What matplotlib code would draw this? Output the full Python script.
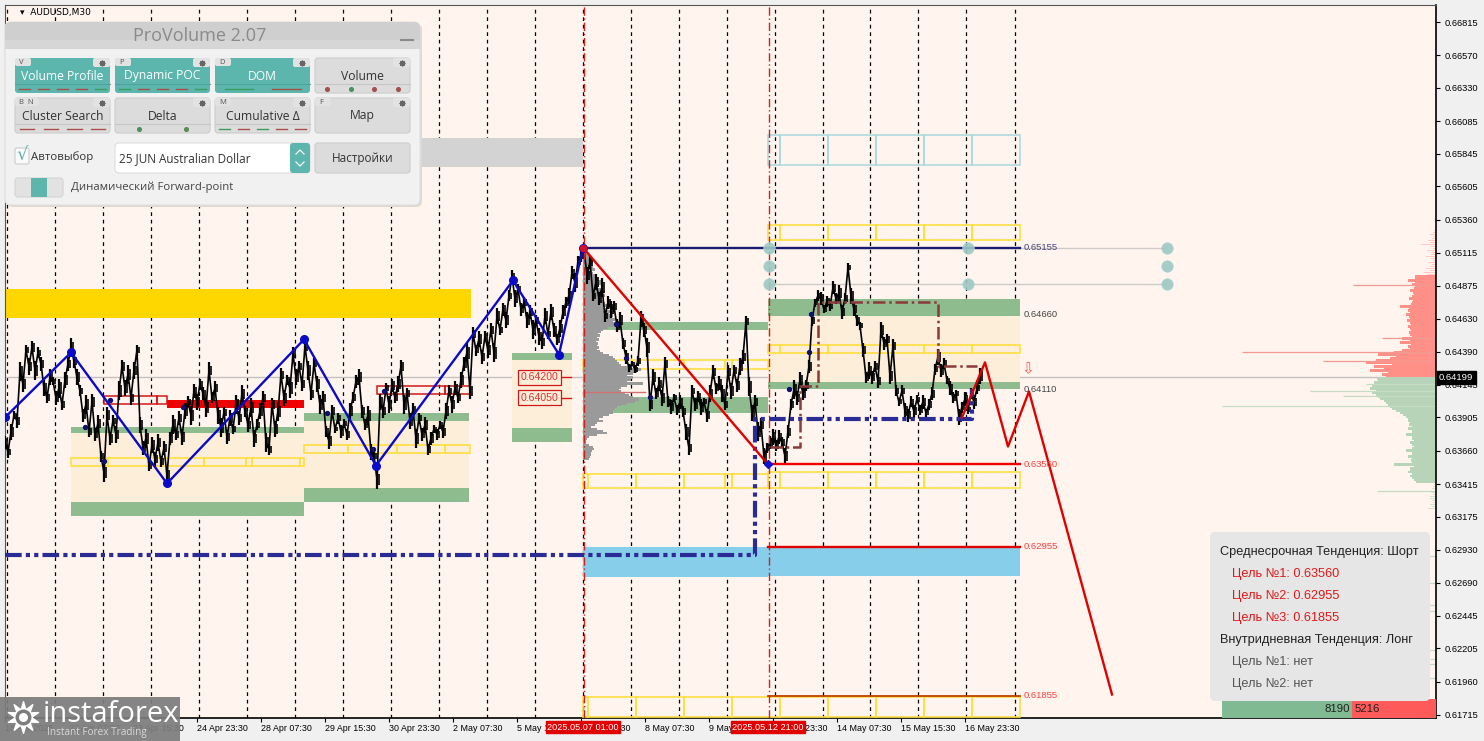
import numpy as np
import matplotlib
matplotlib.use('Agg')
from matplotlib import pyplot as plt
from matplotlib.patches import Rectangle, FancyBboxPatch

BG = '#fff5ee'
GREEN = '#8fbc8f'
BEIGE = '#fdeeda'
YELLOW = '#ffdf40'
NAVY = '#2b2b96'

# price path in pips, one value every 3 bars-pixels starting at bar 5
close_pips = [
    6372, 6365, 6380, 6392, 6388, 6424, 6415, 6440, 6428, 6442, 6425, 6438, 6430, 6412, 6405,
    6420, 6417, 6405, 6412, 6400, 6418, 6430, 6442, 6432, 6420, 6410, 6392, 6400, 6380, 6402,
    6378, 6386, 6362, 6350, 6392, 6375, 6388, 6378, 6410, 6428, 6412, 6422, 6405, 6425, 6440,
    6385, 6368, 6375, 6355, 6370, 6360, 6372, 6358, 6368, 6348, 6375, 6385, 6378, 6390, 6376,
    6395, 6402, 6392, 6410, 6402, 6415, 6408, 6398, 6425, 6405, 6412, 6392, 6383, 6394, 6376,
    6390, 6382, 6400, 6390, 6408, 6395, 6385, 6398, 6375, 6385, 6395, 6405, 6372, 6367, 6400,
    6382, 6395, 6422, 6405, 6418, 6412, 6437, 6420, 6428, 6415, 6443, 6425, 6408, 6430, 6415,
    6400, 6405, 6380, 6373, 6395, 6382, 6390, 6380, 6386, 6378, 6395, 6405, 6417, 6420, 6395,
    6385, 6392, 6365, 6362, 6345, 6402, 6395, 6412, 6400, 6414, 6405, 6415, 6428, 6400, 6408,
    6388, 6396, 6375, 6390, 6378, 6385, 6367, 6375, 6382, 6378, 6385, 6380, 6395, 6410, 6400,
    6412, 6405, 6418, 6430, 6438, 6410, 6452, 6440, 6448, 6435, 6450, 6440, 6455, 6438, 6465,
    6455, 6470, 6462, 6480, 6494, 6478, 6485, 6470, 6475, 6462, 6468, 6455, 6462, 6450, 6446,
    6465, 6452, 6468, 6455, 6448, 6456, 6468, 6475, 6480, 6497, 6490, 6505, 6510, 6514, 6495,
    6505, 6480, 6490, 6478, 6486, 6465, 6475, 6470, 6472, 6458, 6462, 6445, 6435, 6427, 6430,
    6426, 6432, 6463, 6455, 6442, 6400, 6420, 6408, 6415, 6405, 6430, 6402, 6398, 6405, 6396,
    6402, 6395, 6380, 6368, 6410, 6400, 6406, 6398, 6402, 6392, 6408, 6424, 6412, 6416, 6408,
    6400, 6424, 6410, 6425, 6414, 6428, 6435, 6461, 6413, 6394, 6402, 6380, 6385, 6362, 6368,
    6372, 6376, 6370, 6376, 6372, 6362, 6380, 6400, 6411, 6405, 6418, 6408, 6414, 6428, 6462,
    6475, 6480, 6478, 6470, 6476, 6472, 6486, 6478, 6482, 6468, 6478, 6501, 6480, 6470, 6462,
    6458, 6440, 6420, 6425, 6420, 6428, 6417, 6455, 6445, 6448, 6421, 6443, 6410, 6402, 6410,
    6395, 6392, 6402, 6395, 6404, 6396, 6402, 6394, 6400, 6408, 6426, 6435, 6425, 6430, 6418,
    6412, 6405, 6408, 6391, 6398, 6404, 6396, 6408, 6402, 6412, 6421,
]
# half height of the fuzz around the path at each of those points, in pips
fuzz_pips = [
    5, 4, 6, 3, 5, 7, 6, 4, 6, 5, 7, 4, 5, 6, 4, 6, 3, 5, 7, 4, 6, 5, 7, 5, 6, 4, 5, 7, 4, 6,
    5, 6, 4, 7, 6, 5, 4, 6, 7, 5, 6, 7, 5, 6, 4, 6, 5, 7, 4, 6, 5, 6, 4, 5, 6, 5, 7, 4, 5, 6,
    6, 4, 7, 5, 6, 4, 5, 7, 6, 4, 5, 6, 7, 4, 5, 6, 4, 7, 5, 6, 4, 5, 7, 6, 4, 6, 5, 7, 4, 5,
    6, 7, 5, 6, 4, 7, 5, 6, 4, 5, 6, 7, 5, 4, 6, 7, 5, 4, 6, 5, 3, 4, 5, 3, 4, 6, 4, 5, 6, 5,
    4, 7, 6, 4, 7, 6, 5, 4, 6, 5, 4, 6, 5, 7, 4, 6, 5, 7, 4, 5, 6, 4, 5, 3, 4, 3, 5, 6, 4, 6,
    5, 4, 6, 5, 7, 6, 5, 4, 6, 5, 4, 6, 5, 7, 6, 4, 5, 6, 4, 5, 6, 4, 5, 4, 6, 5, 7, 4, 6, 5,
    6, 4, 6, 5, 4, 6, 5, 4, 6, 5, 7, 4, 5, 3, 6, 5, 4, 6, 5, 7, 4, 5, 6, 4, 5, 6, 4, 5, 3, 2,
    3, 4, 6, 5, 7, 5, 6, 4, 5, 6, 5, 4, 5, 3, 4, 5, 4, 6, 5, 4, 5, 4, 6, 3, 5, 6, 5, 4, 5, 6,
    4, 5, 6, 4, 5, 6, 5, 4, 7, 6, 5, 7, 5, 6, 4, 5, 6, 4, 5, 4, 6, 5, 4, 7, 5, 6, 5, 4, 5, 4,
    3, 4, 5, 3, 4, 3, 5, 4, 6, 5, 4, 3, 6, 5, 4, 3, 5, 4, 6, 5, 4, 5, 6, 5, 4, 6, 5, 4, 3, 4,
    6, 5, 4, 5, 3, 4, 5, 3, 4, 5, 4, 6, 5, 4, 3, 5, 4, 3, 6, 4, 5, 3, 4, 5, 4, 6, 5, 4, 6, 5,
]

# zigzag pivots
blue_bars = [5, 71, 167, 304, 376, 513, 559, 583]
blue_prices = [0.63905, 0.64383, 0.63419, 0.64479, 0.63551, 0.64913, 0.64368, 0.65155]
red_bars = [583, 768]
red_prices = [0.65155, 0.63560]

# forecast path
forecast_bars = [962, 985, 1008, 1029, 1112]
forecast_prices = [0.63905, 0.64310, 0.63691, 0.64096, 0.61866]

# stepped levels
poc_bars = [770, 800, 800, 818, 818, 938, 938, 977]
poc_prices = [0.63684, 0.63684, 0.64133, 0.64133, 0.64758, 0.64758, 0.64287, 0.64287]
dpoc_bars = [5, 755, 755, 972, 972]
dpoc_prices = [0.62889, 0.62889, 0.63890, 0.63890, 0.64111]

# small dark dots on the price
dot_bars = [85, 104, 110, 183, 327, 373, 384, 616, 626, 650, 789, 811, 809]
dot_prices = [0.63838, 0.63581, 0.64030, 0.63978, 0.63941, 0.63676, 0.64103, 0.64596, 0.64339,
              0.64052, 0.64111, 0.64663, 0.64390]

# filled zones: bar from, bar to, price top, price bottom
beige_zones = [(71, 304, 0.63787, 0.63286), (304, 469, 0.63875, 0.63382), (512, 572, 0.64324, 0.63824),
               (768, 1020, 0.64655, 0.64162)]
green_zones = [(71, 304, 0.63838, 0.63787), (71, 304, 0.63286, 0.63176), (304, 469, 0.63934, 0.63875),
               (304, 469, 0.63382, 0.63279), (512, 572, 0.64376, 0.64324), (512, 572, 0.63824, 0.63721),
               (600, 768, 0.64604, 0.64545), (583, 768, 0.64052, 0.63941),
               (768, 1020, 0.64773, 0.64655), (768, 1020, 0.64162, 0.64111)]
other_zones = [(5, 471, 0.64847, 0.64633, '#ffd700'), (420, 583, 0.65958, 0.65745, '#d3d3d3'),
               (583, 768, 0.62948, 0.62734, '#87ceeb'), (768, 1020, 0.62955, 0.62741, '#87ceeb'),
               (167, 304, 0.64030, 0.63971, '#f00000')]

# outlined boxes: bar edges, price top, price bottom
yellow_rows = [
    ([71, 108, 204, 246, 252, 300, 304], 0.63603, 0.63544),
    ([304, 348, 397, 445, 470], 0.63699, 0.63640),
    ([583, 586, 636, 684, 725, 732, 768], 0.64324, 0.64265),
    ([583, 588, 636, 684, 725, 732, 768], 0.63492, 0.63382),
    ([768, 780, 828, 876, 924, 972, 1020], 0.65318, 0.65207),
    ([768, 780, 828, 880, 924, 972, 1020], 0.64435, 0.64376),
    ([768, 780, 828, 876, 924, 972, 1020], 0.63500, 0.63389),
    ([583, 588, 636, 684, 732, 780, 828, 876, 924, 972, 1020], 0.61851, 0.61700),
]
red_rows = [
    ([104, 157, 167], 0.64059, 0.64001),
    ([377, 397, 445, 470], 0.64133, 0.64074),
]
cyan_edges = [768, 780, 828, 876, 924, 972, 1020]
cyan_top, cyan_bottom = 0.65980, 0.65759

# horizontal levels to the right
level_prices = [0.65155, 0.63560, 0.62955, 0.61855]
level_colors = ['#1a1a70', '#f00000', '#e00000', '#c04000']
level_labels = ['0.65155', '0.63560', '0.62955', '0.61855']
level_text_colors = ['#44447a', '#ff4040', '#ff4040', '#ff4040']
circle_bars = [769, 769, 769, 968, 968, 1167, 1167, 1167]
circle_prices = [0.65155, 0.65023, 0.64884, 0.65155, 0.64884, 0.65155, 0.65023, 0.64884]

# grey profile from the marked session, one row per 0.00015
session_top = 0.65111
session_widths = [
    4, 6, 8, 7, 10, 9, 8, 10, 12, 9, 10, 13, 14, 15, 20, 18, 16, 15, 18, 22, 20, 22, 18, 17, 20, 22,
    25, 20, 24, 28, 26, 30, 28, 32, 30, 38, 34, 25, 20, 18, 15, 17, 14, 16, 13, 15, 14, 16, 14, 17,
    20, 26, 30, 32, 34, 36, 38, 48, 58, 54, 50, 44, 50, 48, 44, 60, 44, 38, 36, 38, 42, 46, 50, 56,
    52, 44, 38, 34, 32, 30, 30, 26, 20, 16, 20, 14, 12, 8, 14, 20, 24, 14, 6, 4, 3, 3, 6, 10, 11, 9,
    8, 8, 7, 6,
]

# DOM profile at the right edge
dom_red = [
    50, 54, 48, 66, 52, 62, 44, 70, 60, 46, 40, 58, 42, 34, 26, 28, 25, 36, 26, 34, 24, 26, 27, 25,
    26, 28, 25, 26, 29, 26, 27, 30, 26, 28, 27, 36, 25, 24, 23, 27, 24, 22, 23, 26, 22, 21, 24, 21,
    28, 21, 21,
]
dom_red_tail = [8, 12, 6, 10, 6, 4, 8, 3, 5, 10, 5, 4, 9, 3, 5, 15, 6, 8, 4, 3, 6, 3, 2]
dom_green = [
    59, 58, 62, 60, 64, 66, 60, 64, 60, 58, 56, 52, 50, 48, 46, 44, 40, 36, 33, 30, 28, 28, 26, 27,
    24, 28, 24, 24, 30, 24, 24, 22, 26, 24, 22, 24, 30, 24, 24, 28, 24, 25, 24, 42, 22, 26, 26, 28,
    24, 26, 24, 22, 20,
]
dom_green_tail = [2, 3, 4, 0, 5, 3, 6, 6, 4, 3, 6, 4, 8]
spike_red_prices = [0.64383, 0.64317, 0.64883, 0.64486]
spike_red_widths = [194, 113, 83, 54]
spike_green_prices = [0.63986, 0.64103, 0.64066, 0.64148, 0.63367, 0.62882, 0.62683, 0.62528, 0.62484,
                      0.62190, 0.62124, 0.62087, 0.61984]
spike_green_widths = [214, 126, 93, 70, 59, 11, 9, 30, 33, 12, 6, 12, 10]

# axis labels
y_ticks = ['0.66815', '0.66570', '0.66330', '0.66085', '0.65845', '0.65605', '0.65360', '0.65115',
           '0.64875', '0.64630', '0.64390', '0.64145', '0.63905', '0.63660', '0.63415', '0.63175',
           '0.62930', '0.62690', '0.62445', '0.62205', '0.61960', '0.61715']
x_tick_bars = [5, 69, 133, 197, 261, 325, 389, 453, 517, 581, 645, 709, 773, 837, 901, 965]
x_tick_labels = ['18 Apr 2025', '22 Apr 07:30', '23 Apr 15:30', '24 Apr 23:30', '28 Apr 07:30',
                 '29 Apr 15:30', '30 Apr 23:30', '2 May 07:30', '5 May 15:30', '6 May 23:30',
                 '8 May 07:30', '9 May 15:30', '12 May 23:30', '14 May 07:30', '15 May 15:30',
                 '16 May 23:30']
grid_bars = [7, 55, 103, 151, 199, 247, 295, 343, 391, 439, 487, 535, 583, 631, 679, 727, 775, 823,
             870, 918, 966, 1015]

fig = plt.figure(figsize=(14.84, 7.41), dpi=100, facecolor='#f0f0f0')
ax = fig.add_axes([5 / 1484, 23 / 741, 1431 / 1484, 713 / 741], facecolor=BG)
ax.set_xlim(5, 1436)
# 693 pixels between 0.66815 and 0.61715
per_px = (0.66815 - 0.61715) / 693
ax.set_ylim(0.61715 - 3 * per_px, 0.66815 + 17 * per_px)

for s in ['left', 'top']:
    ax.spines[s].set_color('#555555')
    ax.spines[s].set_linewidth(0.8)
for s in ['right', 'bottom']:
    ax.spines[s].set_linewidth(1.2)

ax.yaxis.tick_right()
ax.set_yticks([float(v) for v in y_ticks], y_ticks, fontsize=6.7, family='Liberation Sans')
ax.tick_params(axis='y', length=3, width=0.8, pad=3)
ax.set_xticks(x_tick_bars, x_tick_labels, fontsize=6.4, family='Liberation Sans', ha='left')
ax.tick_params(axis='x', length=3, width=0.8, pad=1)

for x in grid_bars:
    ax.axvline(x, color='black', lw=0.9, ls=(0, (3, 3)), zorder=1)
ax.axhline(0.64199, color='#c4c0c0', lw=1, zorder=1)

for x0, x1, top, bottom in beige_zones:
    ax.add_patch(Rectangle((x0, bottom), x1 - x0, top - bottom, fc=BEIGE, ec='none', zorder=2))
for x0, x1, top, bottom in green_zones:
    ax.add_patch(Rectangle((x0, bottom), x1 - x0, top - bottom, fc=GREEN, ec='none', zorder=2.2))
for x0, x1, top, bottom, color in other_zones:
    ax.add_patch(Rectangle((x0, bottom), x1 - x0, top - bottom, fc=color, ec='none', zorder=2.2))

for edges, top, bottom in yellow_rows:
    for x0, x1 in zip(edges[:-1], edges[1:]):
        ax.add_patch(Rectangle((x0, bottom), x1 - x0, top - bottom, fc='none', ec=YELLOW, lw=1.2, zorder=3))
for edges, top, bottom in red_rows:
    for x0, x1 in zip(edges[:-1], edges[1:]):
        ax.add_patch(Rectangle((x0, bottom), x1 - x0, top - bottom, fc='none', ec='#d01818', lw=1.1, zorder=3))
for x0, x1 in zip(cyan_edges[:-1], cyan_edges[1:]):
    ax.add_patch(Rectangle((x0, cyan_bottom), x1 - x0, cyan_top - cyan_bottom, fc='none', ec='#a8d8e0', lw=1.1, zorder=3))

# grey session profile
row = 0.000147
session_y = session_top - np.arange(len(session_widths)) * row
ax.barh(session_y, session_widths, height=row * 1.15, left=583, color='#9a9a9a', lw=0, zorder=3.2)
ax.plot([583, 645], [0.64092, 0.64092], color='#d07070', lw=1, zorder=3.3)

# DOM at right edge
y_up = 0.64199 + 0.00007 + np.arange(len(dom_red)) * row
ax.barh(y_up, dom_red, height=row * 1.2, left=1436 - np.array(dom_red), color='#ff9088', lw=0, zorder=2)
y_tail = y_up[-1] + row + np.arange(len(dom_red_tail)) * row
ax.barh(y_tail, dom_red_tail, height=row * 0.7, left=1436 - np.array(dom_red_tail), color='#ffc8c0', lw=0, zorder=2)
y_dn = 0.64199 - 0.00007 - np.arange(len(dom_green)) * row
ax.barh(y_dn, dom_green, height=row * 1.2, left=1436 - np.array(dom_green), color='#b8d4b8', lw=0, zorder=2)
y_tail = y_dn[-1] - row - np.arange(len(dom_green_tail)) * row
ax.barh(y_tail, dom_green_tail, height=row * 0.7, left=1436 - np.array(dom_green_tail), color='#cfe2cf', lw=0, zorder=2)
ax.hlines(spike_red_prices, 1436 - np.array(spike_red_widths), 1436, color='#f09a90', lw=0.9, zorder=2)
ax.hlines(spike_green_prices, 1436 - np.array(spike_green_widths), 1436, color='#c4dcc4', lw=0.9, zorder=2)

# price line, with the fuzz of the M30 bars around it
close_bars = 5 + 3 * np.arange(len(close_pips))
close_prices = np.array(close_pips) / 10000
fuzz = np.array(fuzz_pips[:len(close_pips)]) / 10000
ax.plot(close_bars, close_prices, color='black', lw=1.2, zorder=4)
ax.vlines(close_bars, close_prices - fuzz, close_prices + fuzz, color='black', lw=1.6, zorder=4)
ax.vlines(close_bars + 1.5, (close_prices - fuzz * 0.6), (close_prices + fuzz * 0.6), color='black', lw=1.2, zorder=4)
ax.scatter(dot_bars, dot_prices, s=8, color='#10106e', zorder=4.2)

# stepped levels and zigzags
ax.plot(dpoc_bars, dpoc_prices, color=NAVY, lw=3, ls=(0, (4, 1, 1, 1, 1, 1)), zorder=4.5)
ax.plot(poc_bars, poc_prices, color='#8b3a3a', lw=1.8, ls=(0, (5, 1.5, 1, 1.5)), zorder=4.5)
ax.plot(blue_bars, blue_prices, color='#0a0ac8', lw=1.7, marker='o', ms=5.5, zorder=5)
ax.plot(red_bars, red_prices, color='#e00000', lw=1.7, zorder=5)
ax.plot(583, 0.65155, 'o', color='#d01030', ms=4.5, zorder=5.1)
ax.plot(768, 0.63560, 'D', color='#1010d0', ms=4.5, zorder=5.1)
ax.plot(forecast_bars, forecast_prices, color='#e00000', lw=1.7, zorder=5)

# event markers
ax.axvline(584, color='#d02020', lw=1, ls=(0, (6, 2, 1, 2)), zorder=4.6)
ax.axvline(769, color='#d02020', lw=1, ls=(0, (6, 2, 1, 2)), zorder=4.6)

# levels and labels
ax.hlines([0.65155, 0.64884], 768, 1167, color='#cfcac8', lw=1, zorder=2.5)
for price, color, label, tcolor in zip(level_prices, level_colors, level_labels, level_text_colors):
    ax.plot([768, 1020], [price, price], color=color, lw=1.7 if price != 0.61855 else 1.3, zorder=4.7)
    ax.text(1024, price, label, color=tcolor, fontsize=6.8, family='Liberation Sans', va='center', zorder=6)
ax.plot([583, 768], [0.65155, 0.65155], color='#1a1a70', lw=1.7, zorder=4.7)
ax.text(1024, 0.64660, '0.64660', color='#444444', fontsize=6.8, family='Liberation Sans', va='center', zorder=6)
ax.text(1024, 0.64110, '0.64110', color='#444444', fontsize=6.8, family='Liberation Sans', va='center', zorder=6)
ax.scatter(circle_bars, circle_prices, s=70, color='#9cc8c4', edgecolor='#b4d8d4', lw=0.5, alpha=0.9, zorder=5.5)
ax.text(1028, 0.64265, '\u21e9', color='#ff5a50', fontsize=11, ha='center', va='center', zorder=6)

for price, label in [(0.64200, '0.64200'), (0.64050, '0.64050')]:
    ax.plot([560, 571], [price, price], color='#d01818', lw=1, zorder=5)
    ax.text(539.5, price, label, color='#e03030', fontsize=7.6, family='Liberation Sans', ha='center', va='center',
            bbox=dict(fc=BEIGE, ec='#d01818', lw=0.9, pad=1.6), zorder=6)

ax.text(1439, 0.64199, '0.64199', color='white', fontsize=6.8, family='Liberation Sans', va='center', clip_on=False,
        bbox=dict(fc='black', ec='black', pad=1.6), zorder=7)
for bar, label in [(583, '2025.05.07 01:00'), (768, '2025.05.12 21:00')]:
    ax.text(bar, 0.61715 - 12 * per_px, label, color='white', fontsize=6.6, family='Liberation Sans', ha='center',
            va='center', clip_on=False, bbox=dict(fc='#e00000', ec='#e00000', pad=1.2), zorder=7)

# pixel overlay for the panel, the info box and the watermark
ov = fig.add_axes([0, 0, 1, 1], facecolor='none')
ov.set_xlim(0, 1484)
ov.set_ylim(741, 0)
ov.axis('off')

def box(x, y, w, h, color, r=3, ec='none', lw=0.8, z=10):
    p = FancyBboxPatch((x + r, y + r), w - 2 * r, h - 2 * r, boxstyle='round,pad=%d,rounding_size=%d' % (r, r),
                       fc=color, ec=ec, lw=lw, zorder=z)
    ov.add_patch(p)

PANEL_FONT = 'Open Sans'
TEAL = '#5cb6ae'

ov.text(20, 12.5, '\u25be  AUDUSD,M30', fontsize=6.5, family='DejaVu Sans', va='center', color='black')

box(7, 24, 415, 183, '#dcd8d4', r=6, z=9)
box(5, 22, 415, 183, '#f1f1f1', r=6, ec='#e0e0e0')
box(5, 22, 415, 27, '#cfcfcf', r=6, z=10.1)
ov.add_patch(Rectangle((5, 40), 415, 9, fc='#d6d6d6', ec='none', zorder=10.1))
ov.text(200, 36, 'ProVolume 2.07', fontsize=13, family=PANEL_FONT, color='#8a8a8a', ha='center', va='center', zorder=11)
ov.plot([401, 413], [40, 40], color='#8a8a8a', lw=1.5, zorder=11)

buttons = [
    (15, 58, 'Volume Profile', True, 'V', '#a05050', 5),
    (115, 58, 'Dynamic POC', True, 'P', '#a05050', 5),
    (215, 58, 'DOM', True, 'D', '#4a9060', 2),
    (315, 58, 'Volume', False, '', '#a05050', 4),
    (15, 98, 'Cluster Search', False, 'B  N', '#b06060', 4),
    (115, 98, 'Delta', False, '', '#5a8a5a', 2),
    (215, 98, 'Cumulative \u0394', False, 'M', '#b06060', 5),
    (315, 98, 'Map', False, 'F', '#b06060', 0),
]
for bx, by, label, on, key, mark, cells in buttons:
    box(bx, by, 95, 35, TEAL if on else '#dcdcdc', r=3, ec='none' if on else '#cccccc', z=10.2)
    ov.text(bx + 47.5, by + 18, label, fontsize=8.7, family=PANEL_FONT, color='white' if on else '#333333',
            ha='center', va='center', zorder=11)
    if key:
        box(bx, by, 8 + 8 * len(key.replace(' ', '')), 8, '#e2e2e2', r=2, z=10.4)
        ov.text(bx + 4, by + 4, key, fontsize=5.5, family=PANEL_FONT, color='#555555', va='center', zorder=11)
    box(bx + 78, by, 17, 9, '#e2e2e2', r=2, z=10.4)
    ov.scatter([bx + 87], [by + 4.5], s=14, marker=(8, 1, 0), color='#666666', zorder=11)
    if cells:
        ov.plot([bx, bx + 95], [by + 26, by + 26], color='#4fa39c' if on else '#c6c6c6', lw=0.8, zorder=10.5)
        w = 95 / cells
        for i in range(cells):
            cx = bx + (i + 0.5) * w
            if label in ('Volume', 'Delta'):
                ov.scatter([cx], [by + 31], s=7, color='#4a9060' if (label == 'Volume' and i == 1) or (label == 'Delta' and i == 0) else mark, zorder=11)
            else:
                c = '#3f9a60' if (i == cells - 1 and label == 'Volume Profile') or (i in (0, cells - 1) and label == 'Dynamic POC') \
                    or (i in (0, 2) and label == 'Cumulative \u0394') or (i == 0 and label == 'DOM') else '#a85048'
                ov.plot([cx - w * 0.3, cx + w * 0.3], [by + 31, by + 31], color=c, lw=1, zorder=11)

box(15, 148, 14, 16, '#fafafa', r=2, ec='#cccccc', z=10.3)
ov.text(22, 155, '\u221a', fontsize=13, family='DejaVu Sans', color=TEAL, ha='center', va='center', zorder=11)
ov.text(31, 157, 'Автовыбор', fontsize=8.2, family=PANEL_FONT, color='#333333', va='center', zorder=11)
box(115, 143, 195, 30, 'white', r=4, ec='#dddddd', z=10.3)
box(290, 143, 20, 30, TEAL, r=3, z=10.4)
ov.plot([296, 300, 304], [154, 150, 154], color='white', lw=0.9, zorder=11)
ov.plot([296, 300, 304], [162, 166, 162], color='white', lw=0.9, zorder=11)
ov.text(119, 158.5, '25 JUN Australian Dollar', fontsize=8.5, family=PANEL_FONT, color='#333333', va='center', zorder=11)
box(315, 143, 95, 30, '#dcdcdc', r=3, ec='#cccccc', z=10.3)
ov.text(362.5, 158.5, 'Настройки', fontsize=8.5, family=PANEL_FONT, color='#333333', ha='center', va='center', zorder=11)
box(15, 178, 48, 19, '#e2e2e2', r=3, ec='#d4d4d4', z=10.3)
ov.add_patch(Rectangle((31, 178), 16, 19, fc=TEAL, ec='none', zorder=10.5))
ov.text(71, 187.5, 'Динамический Forward-point', fontsize=8.2, family=PANEL_FONT, color='#444444', va='center', zorder=11)

# strength bar and info box
ov.add_patch(Rectangle((1222, 699), 130, 19, fc='#7fba92', ec='none', zorder=8))
ov.add_patch(Rectangle((1352, 699), 84, 19, fc='#ff5a5a', ec='none', zorder=8))
ov.text(1350, 709, '8190', fontsize=8.2, family='Liberation Sans', ha='right', va='center', color='#222222', zorder=9)
ov.text(1355, 709, '5216', fontsize=8.2, family='Liberation Sans', ha='left', va='center', color='#222222', zorder=9)

box(1210, 532, 220, 169, '#e6e6e6', r=5, z=8.5)
info_lines = [
    (1220, 552, 'Среднесрочная Тенденция: Шорт', '#222222'),
    (1232, 574, 'Цель №1: 0.63560', '#e01818'),
    (1232, 596, 'Цель №2: 0.62955', '#e01818'),
    (1232, 618, 'Цель №3: 0.61855', '#e01818'),
    (1220, 640, 'Внутридневная Тенденция: Лонг', '#222222'),
    (1232, 662, 'Цель №1: нет', '#555555'),
    (1232, 684, 'Цель №2: нет', '#555555'),
]
for tx, ty, line, color in info_lines:
    ov.text(tx, ty, line, fontsize=9.2, family='Liberation Sans', color=color, va='center', zorder=9)

# watermark
ov.add_patch(Rectangle((0, 697), 180, 44, fc='#7d7d7d', alpha=0.93, ec='none', zorder=12))
ov.scatter([23], [717], s=520, marker=(10, 1, 0), color='white', zorder=13)
ov.scatter([23], [717], s=110, color='#7d7d7d', zorder=13.1)
ov.scatter([23], [717], s=30, color='white', zorder=13.2)
ov.text(43, 714, 'instaforex', fontsize=21, family='Open Sans', color='white', va='center', zorder=13)
ov.text(47, 732, 'Instant Forex Trading', fontsize=7.2, family='Open Sans', color='#d8d8d8', va='center', zorder=13)

plt.savefig('out.png', dpi=100, facecolor=fig.get_facecolor())
plt.close()
